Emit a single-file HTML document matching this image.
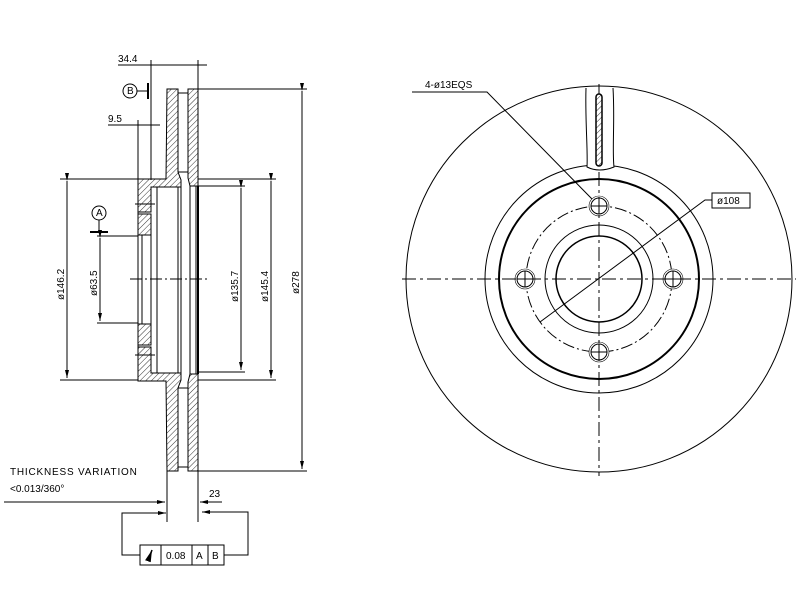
<!DOCTYPE html>
<html><head><meta charset="utf-8"><style>body{margin:0;background:#fff}svg{display:block}text{font-family:"Liberation Sans",sans-serif;font-size:10px;fill:#000}</style></head><body>
<svg width="800" height="600" viewBox="0 0 800 600" xmlns="http://www.w3.org/2000/svg">
<defs>
<pattern id="h" patternUnits="userSpaceOnUse" width="4" height="4" patternTransform="rotate(45)"><line x1="0" y1="0" x2="0" y2="4" stroke="#000" stroke-width="0.8"/></pattern>
<marker id="a" markerWidth="8" markerHeight="6" refX="8" refY="3" orient="auto"><path d="M0,1 L8,3 L0,5Z" fill="#000"/></marker>
</defs>
<g stroke="#000" fill="none" stroke-width="1">
<path d="M167,89 H178 V172 L181,180 V187 H151 V212 H138 V179 H166 Z" fill="url(#h)"/>
<path d="M138,214 H151 V235 H138 Z" fill="url(#h)"/>
<path d="M138,324 H151 V345 H138 Z" fill="url(#h)"/>
<path d="M167,471 H178 V388 L181,380 V373 H151 V347 H138 V381 H166 Z" fill="url(#h)"/>
<path d="M188,89 H198 V186 H190 L188,178 Z" fill="url(#h)"/>
<path d="M188,471 H198 V374 H190 L188,382 Z" fill="url(#h)"/>
<line x1="178" y1="93" x2="188" y2="93"/><line x1="178" y1="467" x2="188" y2="467"/>
<line x1="178" y1="172" x2="188" y2="172"/><line x1="178" y1="388" x2="188" y2="388"/>
<line x1="138" y1="212" x2="138" y2="347"/>
<line x1="142" y1="235" x2="142" y2="324"/>
<line x1="151" y1="235" x2="151" y2="324"/>
<line x1="157" y1="187" x2="157" y2="373"/>
<line x1="178" y1="187" x2="178" y2="373"/>
<line x1="181" y1="187" x2="181" y2="373"/>
<line x1="190" y1="186" x2="190" y2="374"/>
<line x1="196" y1="186" x2="196" y2="374"/>
<line x1="198" y1="186" x2="198" y2="374" stroke-width="2"/>
<line x1="135" y1="204" x2="155" y2="204"/><line x1="135" y1="355" x2="155" y2="355"/>
<line x1="130" y1="279" x2="208" y2="279" stroke-dasharray="12,3,2,3"/>
<line x1="151" y1="60" x2="151" y2="180"/><line x1="198" y1="60" x2="198" y2="89"/>
<line x1="118" y1="65" x2="207" y2="65"/>
<line x1="108" y1="125" x2="160" y2="125"/><line x1="138" y1="120" x2="138" y2="179"/>
<circle cx="130" cy="91" r="7"/><line x1="137" y1="91" x2="148" y2="91"/><line x1="148" y1="83" x2="148" y2="99" stroke-width="2"/>
<circle cx="99" cy="213" r="7"/><line x1="99" y1="220" x2="99" y2="232"/><line x1="90" y1="232" x2="108" y2="232" stroke-width="2"/>
<line x1="60" y1="179" x2="138" y2="179"/><line x1="60" y1="380" x2="138" y2="380"/>
<line x1="67" y1="181" x2="67" y2="378" marker-start="url(#a)" marker-end="url(#a)"/>
<line x1="97" y1="236" x2="138" y2="236"/><line x1="97" y1="323" x2="138" y2="323"/>
<line x1="100" y1="238" x2="100" y2="321" marker-start="url(#a)" marker-end="url(#a)"/>
<line x1="198" y1="186" x2="245" y2="186"/><line x1="198" y1="372" x2="245" y2="372"/>
<line x1="241" y1="188" x2="241" y2="370" marker-start="url(#a)" marker-end="url(#a)"/>
<line x1="198" y1="179" x2="276" y2="179"/><line x1="198" y1="380" x2="276" y2="380"/>
<line x1="271" y1="181" x2="271" y2="378" marker-start="url(#a)" marker-end="url(#a)"/>
<line x1="198" y1="89" x2="307" y2="89"/><line x1="198" y1="471" x2="307" y2="471"/>
<line x1="302" y1="91" x2="302" y2="469" marker-start="url(#a)" marker-end="url(#a)"/>
<line x1="167" y1="471" x2="167" y2="522"/><line x1="198" y1="471" x2="198" y2="522"/>
<line x1="4" y1="502" x2="165" y2="502" marker-end="url(#a)"/>
<line x1="222" y1="502" x2="200" y2="502" marker-end="url(#a)"/>
<polyline points="165,513 122,513 122,555 140,555"/>
<line x1="158" y1="513" x2="166" y2="513" marker-end="url(#a)"/>
<polyline points="224,555 248,555 248,512 202,512" marker-end="url(#a)"/>
<rect x="140" y="545" width="84" height="20"/>
<line x1="161" y1="545" x2="161" y2="565"/><line x1="192" y1="545" x2="192" y2="565"/><line x1="208" y1="545" x2="208" y2="565"/>
<line x1="148" y1="561" x2="152" y2="550" stroke-width="1.5" marker-end="url(#a)"/>
<circle cx="599" cy="279" r="193"/>
<circle cx="599" cy="279" r="114"/>
<circle cx="599" cy="279" r="100" stroke-width="2"/>
<circle cx="599" cy="279" r="73" stroke-dasharray="12,3,2,3"/>
<circle cx="599" cy="279" r="54"/>
<circle cx="599" cy="279" r="43" stroke-width="1.5"/>
<g fill="#fff">
<circle cx="599" cy="206" r="10" stroke-width="0.6"/><circle cx="599" cy="206" r="8"/>
<circle cx="525" cy="279" r="10" stroke-width="0.6"/><circle cx="525" cy="279" r="8"/>
<circle cx="673" cy="279" r="10" stroke-width="0.6"/><circle cx="673" cy="279" r="8"/>
<circle cx="599" cy="352" r="10" stroke-width="0.6"/><circle cx="599" cy="352" r="8"/>
</g>
<path d="M591,206 H607 M599,198 V214 M517,279 H533 M525,271 V287 M665,279 H681 M673,271 V287 M591,352 H607 M599,344 V360"/>
<path d="M586,88 C585,120 588,150 587,167 Q599,173 614,167 C612,150 615,120 613,88" fill="#fff"/>
<rect x="596" y="94" width="6" height="72" rx="3" fill="url(#h)" stroke-width="1.5"/>
<line x1="402" y1="279" x2="796" y2="279" stroke-dasharray="14,4,3,4"/>
<line x1="599" y1="84" x2="599" y2="94" />
<line x1="599" y1="172" x2="599" y2="476" stroke-dasharray="14,4,3,4"/>
<polyline points="412,92 487,92 592,199"/>
<polyline points="712,200 705,200 540,322"/>
<rect x="712" y="193" width="38" height="15"/>
</g>
<text x="118" y="62">34.4</text>
<text x="108" y="122">9.5</text>
<text x="127" y="94" font-size="6">B</text>
<text x="96" y="216" font-size="6">A</text>
<text transform="translate(64,300) rotate(-90)">ø146.2</text>
<text transform="translate(97,296) rotate(-90)">ø63.5</text>
<text transform="translate(238,302) rotate(-90)">ø135.7</text>
<text transform="translate(268,302) rotate(-90)">ø145.4</text>
<text transform="translate(299,294) rotate(-90)">ø278</text>
<text x="10" y="475" letter-spacing="0.8">THICKNESS VARIATION</text>
<text x="10" y="492">&lt;0.013/360°</text>
<text x="209" y="497">23</text>
<text x="166" y="559">0.08</text>
<text x="196" y="559">A</text>
<text x="212" y="559">B</text>
<text x="425" y="88">4-ø13EQS</text>
<text x="717" y="204">ø108</text>
</svg>
</body></html>
